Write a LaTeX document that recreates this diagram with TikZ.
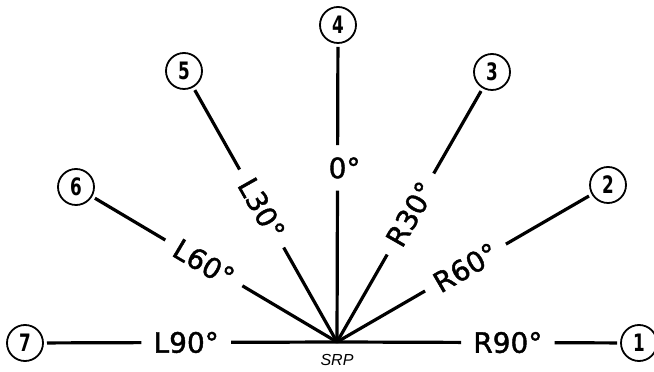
\documentclass[tikz,border=0pt]{standalone}
\usepackage{fontspec}
\setmainfont{DejaVu Sans}
\newfontfamily\srpfont{Liberation Sans}
\newfontfamily\lblfont{DejaVu Sans}[FakeBold=1.5]
\usepackage{tikz}

\begin{document}
\begin{tikzpicture}[x=1pt, y=1pt,
    ray/.style={line width=3.2pt},
    posnode/.style={draw, circle, line width=1.8pt, minimum size=36pt,
        inner sep=0pt, outer sep=4pt,
        font=\fontsize{24}{24}\selectfont\bfseries},
    lbl/.style={inner sep=12pt, font=\fontsize{28}{28}\selectfont\lblfont},
    ]
\useasboundingbox (0,0) rectangle (654,372);

% reference point
\coordinate (srp) at (337,30);
\node[font=\fontsize{16}{16}\selectfont\srpfont\itshape] (srptext) at (337,12) {SRP};

% positions
\node[posnode] (p1) at (639,29)  {\scalebox{0.7}[1]{1}};
\node[posnode] (p2) at (608,187) {\scalebox{0.7}[1]{2}};
\node[posnode] (p3) at (492,300) {\scalebox{0.7}[1]{3}};
\node[posnode] (p4) at (338,347) {\scalebox{0.7}[1]{4}};
\node[posnode] (p5) at (184,301) {\scalebox{0.7}[1]{5}};
\node[posnode] (p6) at (76,185)  {\scalebox{0.7}[1]{6}};
\node[posnode] (p7) at (25,29)   {\scalebox{0.7}[1]{7}};

% labels on the rays
\path (srp) -- node[lbl, pos=0.61] (r90) {R90°} (p1);
\path (srp) -- node[lbl, pos=0.51, sloped] (r60) {R60°} (p2);
\path (srp) -- node[lbl, pos=0.51, sloped] (r30) {R30°} (p3);
\path (srp) -- node[lbl, pos=0.59] (z0) {0\rlap{°}} (p4);
\path (srp) -- node[lbl, pos=0.53, sloped] (l30) {L30°} (p5);
\path (srp) -- node[lbl, pos=0.55, sloped] (l60) {L60°} (p6);
\path (srp) -- node[lbl, pos=0.52] (l90) {L90°} (p7);

% rays
\draw[ray] (srp) -- (r90) (r90) -- (p1);
\draw[ray] (srp) -- (r60) (r60) -- (p2);
\draw[ray] (srp) -- (r30) (r30) -- (p3);
\draw[ray] (srp) -- (z0) (z0) -- (p4);
\draw[ray] (srp) -- (l30) (l30) -- (p5);
\draw[ray] (srp) -- (l60) (l60) -- (p6);
\draw[ray] (srp) -- (l90) (l90) -- (p7);
\end{tikzpicture}
\end{document}
